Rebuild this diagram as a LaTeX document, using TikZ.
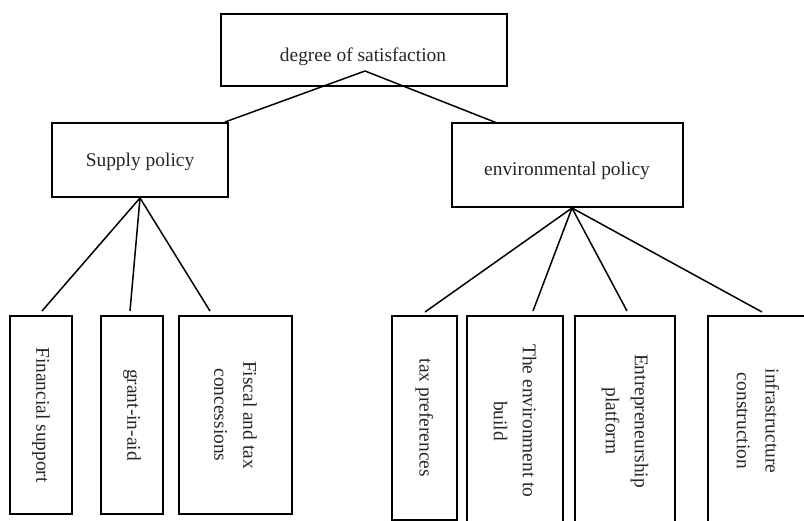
\documentclass[tikz,border=0pt]{standalone}
\usepackage{fontspec}
\setmainfont{Liberation Serif}
\begin{document}
\begin{tikzpicture}[x=1bp,y=-1bp,
  txt/.style={font=\fontsize{19.5}{29}\selectfont, align=center, inner sep=0pt, text=black!85},
  box/.style={draw, line width=1.8bp, inner sep=0pt},
  vbox/.style={box, txt, rotate=-90},
  link/.style={line width=1.5bp}]
\useasboundingbox (0,0) rectangle (804,521);
% top level
\node[box, minimum width=286bp, minimum height=72bp] (root) at (364,50) {};
\node[txt] (rootText) at (363,57) {degree of satisfaction};
% second level
\node[box, minimum width=176bp, minimum height=74bp] (sp) at (140,160) {};
\node[txt] (spText) at (140,162) {Supply policy};
\node[box, minimum width=231bp, minimum height=84bp] (env) at (567.5,165) {};
\node[txt] (envText) at (567,171) {environmental policy};
% leaves of supply policy
\node[vbox, minimum width=198bp, minimum height=62bp] (fin) at (41,415) {Financial support};
\node[vbox, minimum width=198bp, minimum height=62bp] (grant) at (132,415) {grant-in-aid};
\node[vbox, minimum width=198bp, minimum height=113bp] (fiscal) at (235.5,415) {Fiscal and tax\\concessions};
% leaves of environmental policy
\node[vbox, minimum width=204bp, minimum height=65bp] (taxp) at (424.5,418) {tax preferences};
\node[vbox, minimum width=210bp, minimum height=96bp] (build) at (515,421) {The environment to\\build};
\node[vbox, minimum width=210bp, minimum height=100bp] (entre) at (625,421) {Entrepreneurship\\platform};
\node[vbox, minimum width=210bp, minimum height=100bp] (infra) at (758,421) {infrastructure\\construction};
% connector end points
\coordinate (rootHub) at (365,71);
\coordinate (spIn) at (225,122);
\coordinate (envIn) at (497,123);
\coordinate (spHub) at (140,198);
\coordinate (finIn) at (42,311);
\coordinate (grantIn) at (130,311);
\coordinate (fiscalIn) at (210,311);
\coordinate (envHub) at (572,208);
\coordinate (taxpIn) at (425,312);
\coordinate (buildIn) at (533,311);
\coordinate (entreIn) at (627,311);
\coordinate (infraIn) at (762,312);
% connectors
\draw[link] (rootHub) -- (spIn);
\draw[link] (rootHub) -- (envIn);
\draw[link] (spHub) -- (finIn);
\draw[link] (spHub) -- (grantIn);
\draw[link] (spHub) -- (fiscalIn);
\draw[link] (envHub) -- (taxpIn);
\draw[link] (envHub) -- (buildIn);
\draw[link] (envHub) -- (entreIn);
\draw[link] (envHub) -- (infraIn);
\end{tikzpicture}
\end{document}
